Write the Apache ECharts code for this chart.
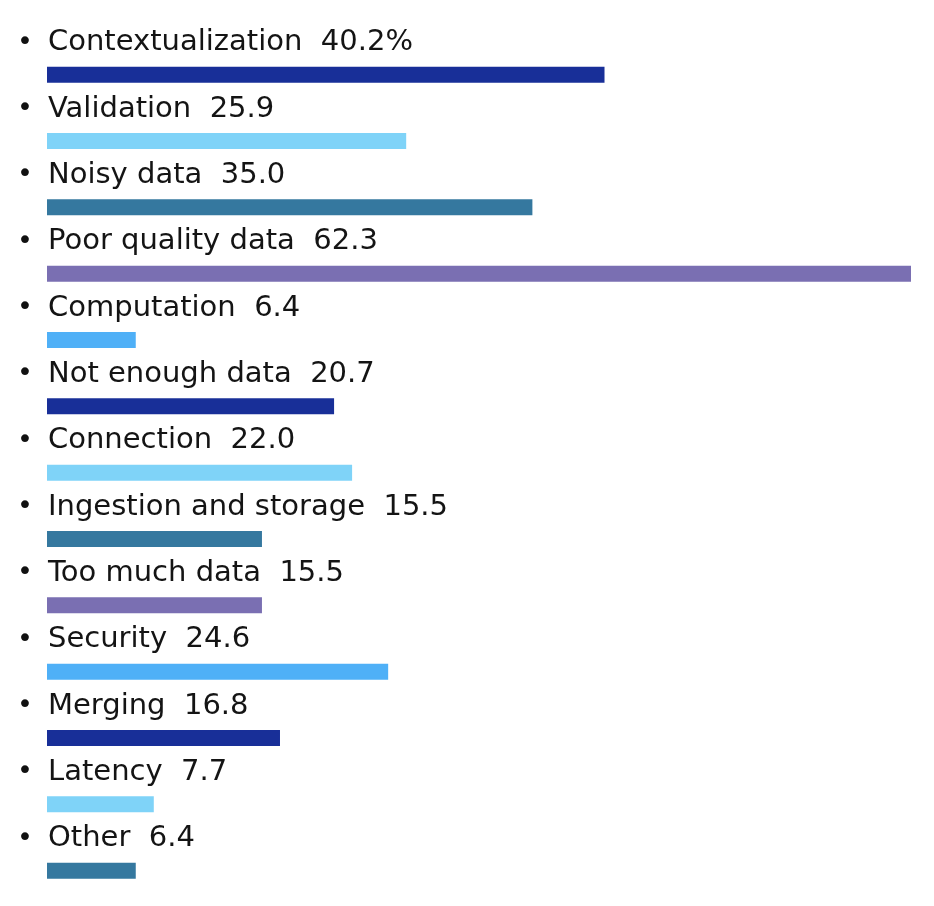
<!DOCTYPE html>
<html>
<head>
<meta charset="utf-8">
<script src="https://cdn.jsdelivr.net/npm/echarts@6/dist/echarts.min.js"></script>
<style>
html,body{margin:0;padding:0;background:#fff;}
#chart{width:934px;height:906px;}
</style>
</head>
<body>
<div id="chart"></div>
<script>
const categories = ["Contextualization","Validation","Noisy data","Poor quality data","Computation","Not enough data","Connection","Ingestion and storage","Too much data","Security","Merging","Latency","Other"];
const values = [40.2, 25.9, 35.0, 62.3, 6.4, 20.7, 22.0, 15.5, 15.5, 24.6, 16.8, 7.7, 6.4];
const valueLabels = ["40.2%","25.9","35.0","62.3","6.4","20.7","22.0","15.5","15.5","24.6","16.8","7.7","6.4"];
const colors = ["#182f98","#7fd3f8","#35789f","#7a6fb2","#4fb0f7"];

const chart = echarts.init(document.getElementById('chart'));
chart.setOption({
  animation: false,
  grid: {left: 47, right: 23, top: 41.5, bottom: 2.2, containLabel: false},
  xAxis: {type: 'value', min: 0, max: 62.3, show: false},
  yAxis: {type: 'category', data: categories, inverse: true, show: false},
  series: [{
    type: 'bar',
    barWidth: 16,
    data: values.map((v, i) => ({value: v, itemStyle: {color: colors[i % colors.length]}})),
    label: {
      show: true,
      position: [-30, -24],
      align: 'left',
      verticalAlign: 'middle',
      formatter: p => '{b|•}{t|' + p.name + '  ' + valueLabels[p.dataIndex] + '}',
      rich: {
        b: {width: 31, fontSize: 27, color: '#111', fontFamily: 'DejaVu Sans'},
        t: {fontSize: 29, color: '#141414', fontFamily: 'DejaVu Sans'}
      }
    }
  }]
});
</script>
</body>
</html>
